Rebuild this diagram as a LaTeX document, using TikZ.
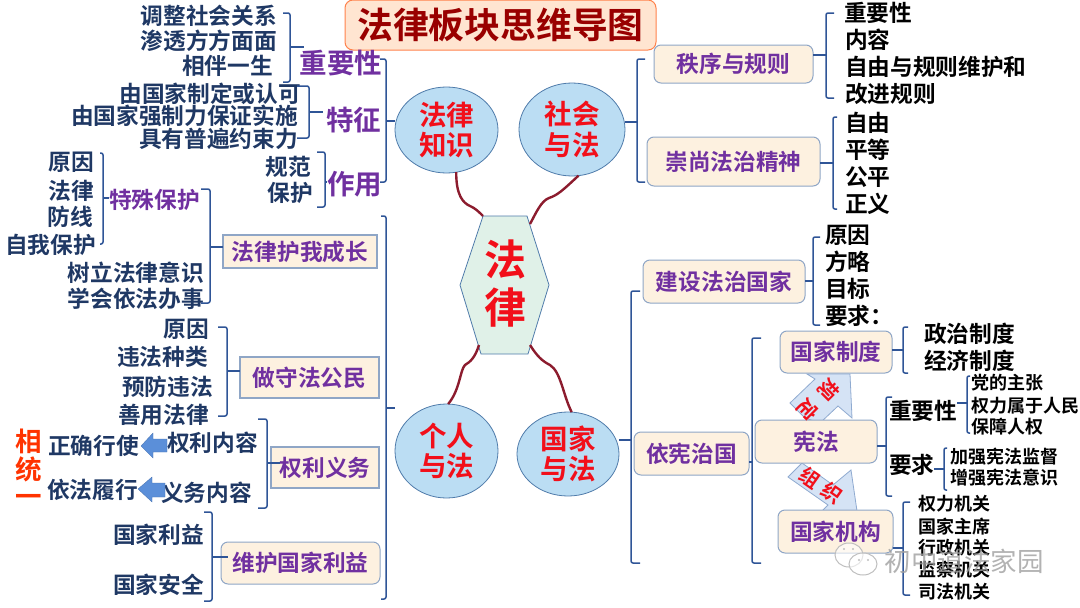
\documentclass[tikz,border=0pt]{standalone}
\usepackage{fontspec}
\setmainfont{Noto Sans CJK SC}[BoldFont={Noto Sans CJK SC Bold}]
\usepackage{tikz}
\usetikzlibrary{shapes.geometric}
\usetikzlibrary{positioning}

\definecolor{navytext}{HTML}{1F3864}
\definecolor{purpletext}{HTML}{7030A0}
\definecolor{redtext}{HTML}{F20F1A}
\definecolor{branchline}{HTML}{2F5597}
\definecolor{rootline}{HTML}{8C1C2E}
\definecolor{rootfill}{HTML}{E0F1E8}
\definecolor{boxfill}{HTML}{FDF1E0}
\definecolor{boxline}{HTML}{8FA6C6}
\definecolor{ballfill}{HTML}{BBDDF3}
\definecolor{ballline}{HTML}{4F7BAA}
\definecolor{arrowfill}{HTML}{D5E3F5}
\definecolor{arrowline}{HTML}{8FAAD0}
\definecolor{bluearrow}{HTML}{5B8FD9}

\newcommand{\px}[1]{\fontsize{#1}{#1}\selectfont\bfseries}

\tikzset{
	every node/.style={inner sep=0pt, outer sep=0pt},
	branch/.style={draw=branchline, line width=1.5pt, rounded corners=2pt},
	rootcurve/.style={draw=rootline, line width=2.4pt},
	ball/.style={ellipse, draw=ballline, line width=0.8pt, fill=ballfill, text=redtext, align=center, font=\px{27.5}},
	softbox/.style={rectangle, rounded corners=7pt, draw=boxline, line width=1pt, fill=boxfill, text=purpletext, font=\px{22.7}},
	sharpbox/.style={rectangle, draw=boxline, line width=1.2pt, fill=boxfill, text=purpletext, font=\px{22.7}},
	navy/.style={text=navytext, font=\px{22.7}},
	blk/.style={text=black, font=\px{22.7}},
	blksmall/.style={text=black, font=\px{18}},
	head/.style={text=purpletext, font=\px{27.5}},
	slant/.style={text=redtext, font=\px{20}},
	blockarrow/.style={draw=arrowline, line width=0.8pt, fill=arrowfill},
	bluefat/.style={fill=bluearrow, draw=bluearrow!80!black, line width=0.3pt},
	bubble/.style={draw=gray!50, line width=1pt, fill=white, fill opacity=0.6}
}

\begin{document}
\begin{tikzpicture}[x=1pt, y=-1pt]
	\useasboundingbox (0,0) rectangle (1080,608);

	% title
	\node[rectangle, rounded corners=8pt, draw=red!40!orange!70, line width=1pt, fill=red!15!orange!18, minimum width=311pt, minimum height=50pt, text=red!60!black, font=\px{35.8}] (title) at (500.5,25) {法律板块思维导图};

	% root
	\coordinate (rootTL) at (483,216);
	\coordinate (rootTR) at (527,216);
	\coordinate (rootR) at (549,285);
	\coordinate (rootBR) at (528,354);
	\coordinate (rootBL) at (481,354);
	\coordinate (rootL) at (460,285);
	\draw[draw=ballline, line width=0.8pt, fill=rootfill] (rootTL) -- (rootTR) -- (rootR) -- (rootBR) -- (rootBL) -- (rootL) -- cycle;
	\node[text=redtext, font=\px{42}, align=center] (root) at (505,284) {法\\[6pt]律};

	% four topics
	\node[ball, minimum width=103pt, minimum height=86pt] (zhishi) at (446.5,130) {法律\\[3pt]知识};
	\node[ball, minimum width=106pt, minimum height=93pt] (shehui) at (572,129.5) {社会\\[3pt]与法};
	\node[ball, minimum width=103pt, minimum height=94pt] (geren) at (446.5,451) {个人\\[3pt]与法};
	\node[ball, minimum width=102pt, minimum height=84pt] (guojia) at (568,454) {国家\\[3pt]与法};

	\draw[rootcurve] (zhishi.-77) .. controls (456,195) and (463,203) .. (470,206) .. controls (475,208) and (479,212) .. (rootTL);
	\draw[rootcurve] (shehui.-82) .. controls (563,190) and (558,195) .. (549,198) .. controls (541,201) and (536,213) .. (530,224);
	\draw[rootcurve] (rootBL) ++(-2,-9) .. controls (475,358) and (470,362) .. (465,365) .. controls (460,370) and (460,390) .. (geren.88);
	\draw[rootcurve] (rootBR) ++(2,-9) .. controls (537,356) and (542,361) .. (550,365) .. controls (561,372) and (563,395) .. (guojia.85);

	% law knowledge
	\node[head, anchor=east] (zhongyao) at (382,63) {重要性};
	\node[head, anchor=east] (tezheng) at (381,120) {特征};
	\node[head, anchor=east] (zuoyong) at (382,184) {作用};
	\node[navy, anchor=east] (tiaozheng) at (277,16) {调整社会关系};
	\node[navy, anchor=east] (shentou) at (277,41) {渗透方方面面};
	\node[navy, anchor=east] (xiangban) at (273,66) {相伴一生};
	\node[navy, anchor=east] (zhiding) at (301,94) {由国家制定或认可};
	\node[navy, anchor=east] (qiangzhi) at (298,116) {由国家强制力保证实施};
	\node[navy, anchor=east] (yueshu) at (298,139) {具有普遍约束力};
	\node[navy, anchor=east] (guifan) at (311,167) {规范};
	\node[navy, anchor=east] (baohu) at (313,193) {保护};

	\draw[branch] (283,13) -- (290,13) -- (290,82) -- (283,82);
	\draw[branch] (290,47) -- (304,47);
	\draw[branch] (297,86) -- (309,86) -- (309,138) -- (297,138);
	\coordinate (jTZ) at (309,112);
	\draw[branch] (jTZ) -- (323,112);
	\draw[branch] (317,152) -- (325,152) -- (325,207) -- (317,207);
	\coordinate (jZY) at (325,182);
	\draw[branch] (jZY) -- (jZY -| zuoyong.west);
	\draw[branch] (380,59) -- (386,59) -- (386,182) -- (380,182);
	\coordinate (jZS) at (386,121);
	\draw[branch] (jZS) -- (jZS -| zhishi.west);

	% person and law
	\node[sharpbox, minimum width=154pt, minimum height=33pt] (huwo) at (300,251.5) {法律护我成长};
	\node[sharpbox, minimum width=139pt, minimum height=41pt] (shoufa) at (309.5,377.5) {做守法公民};
	\node[sharpbox, minimum width=108pt, minimum height=41pt] (quanyi) at (325,467.5) {权利义务};
	\node[softbox, minimum width=159pt, minimum height=42pt] (weihu) at (300.5,563) {维护国家利益};

	\node[text=purpletext, font=\px{22.7}, anchor=east] (teshu) at (200,200) {特殊保护};
	\node[navy, anchor=east] (yuanyin) at (94,162) {原因};
	\node[navy, anchor=east] (falv) at (94,191) {法律};
	\node[navy, anchor=east] (fangxian) at (93,217) {防线};
	\node[navy, anchor=east] (ziwo) at (96,245) {自我保护};
	\node[navy, anchor=east] (shuli) at (204,273) {树立法律意识};
	\node[navy, anchor=east] (xuehui) at (204,299) {学会依法办事};
	\node[navy, anchor=east] (yuanyinb) at (209,329) {原因};
	\node[navy, anchor=east] (weifa) at (208,357) {违法种类};
	\node[navy, anchor=east] (yufang) at (213,387) {预防违法};
	\node[navy, anchor=east] (shanyong) at (209,415) {善用法律};
	\node[navy, anchor=east] (quanneirong) at (258,443) {权利内容};
	\node[navy, anchor=east] (yineirong) at (252,493) {义务内容};
	\node[navy, anchor=east] (zhengque) at (139,446) {正确行使};
	\node[navy, anchor=east] (yifa) at (138,490) {依法履行};
	\node[navy, anchor=east] (liyi) at (204,535) {国家利益};
	\node[navy, anchor=east] (anquan) at (204,585) {国家安全};
	\node[text=orange!40!red, font=\px{26.5}, align=center] (tongyi) at (28.5,468) {相\\[1pt]统\\[1pt]一};

	\draw[bluefat] (167,439) -- (153,439) -- (153,433) -- (141,446) -- (153,458) -- (153,452) -- (167,452) -- cycle;
	\draw[bluefat] (165,483) -- (152,483) -- (152,477) -- (138,489) -- (152,502) -- (152,497) -- (165,497) -- cycle;

	\draw[branch] (100,153) -- (103,153) -- (103,244) -- (100,244);
	\coordinate (jTS) at (103,198);
	\draw[branch] (jTS) -- (jTS -| teshu.west);
	\draw[branch] (201,189) -- (210,189) -- (210,303) -- (201,303);
	\coordinate (jHW) at (210,247);
	\draw[branch] (jHW) -- (jHW -| huwo.west);
	\draw[branch] (218,327) -- (227,327) -- (227,416) -- (218,416);
	\coordinate (jSF) at (227,371);
	\draw[branch] (jSF) -- (jSF -| shoufa.west);
	\draw[branch] (258,419) -- (267,419) -- (267,508) -- (258,508);
	\draw[branch] (267,463) -- (280,463);
	\draw[branch] (204,512) -- (212,512) -- (212,601) -- (204,601);
	\draw[branch] (212,557) -- (228,557);
	\draw[branch] (381,216) -- (386,216) -- (386,599) -- (381,599);
	\coordinate (jGR) at (386,408);
	\draw[branch] (jGR) -- (jGR -| geren.west);

	% society and law
	\node[softbox, minimum width=159pt, minimum height=38pt] (zhixu) at (733.5,64) {秩序与规则};
	\node[softbox, minimum width=173pt, minimum height=49pt] (chongshang) at (733.5,161.5) {崇尚法治精神};
	\node[blk, anchor=west] (zhongyaob) at (844,13) {重要性};
	\node[blk, anchor=west] (neirong) at (845,40) {内容};
	\node[blk, anchor=west] (ziyougui) at (845,67) {自由与规则维护和};
	\node[blk, anchor=west] (gaijin) at (845,94) {改进规则};
	\node[blk, anchor=west] (ziyou) at (845,123) {自由};
	\node[blk, anchor=west] (pingdeng) at (845,150) {平等};
	\node[blk, anchor=west] (gongping) at (845,177) {公平};
	\node[blk, anchor=west] (zhengyi) at (845,204) {正义};

	\draw[branch] (645,59) -- (637,59) -- (637,182) -- (645,182);
	\coordinate (jSH) at (637,122);
	\draw[branch] (jSH) -- (jSH -| shehui.east);
	\draw[branch] (834,13) -- (826,13) -- (826,98) -- (834,98);
	\coordinate (jZX) at (826,55);
	\draw[branch] (jZX) -- (jZX -| zhixu.east);
	\draw[branch] (837,117) -- (833,117) -- (833,209) -- (837,209);
	\coordinate (jCS) at (833,163);
	\draw[branch] (jCS) -- (jCS -| chongshang.east);

	% state and law
	\node[softbox, minimum width=162pt, minimum height=43pt] (jianshe) at (724,281.5) {建设法治国家};
	\node[softbox, minimum width=115pt, minimum height=43pt] (yixian) at (691.5,453.5) {依宪治国};
	\node[blk, anchor=west] (yuanyinc) at (825,235) {原因};
	\node[blk, anchor=west] (fanglve) at (825,262) {方略};
	\node[blk, anchor=west] (mubiao) at (825,289) {目标};
	\node[blk, anchor=west] (yaoqiu) at (825,316) {要求：};

	% block arrows sit behind the boxes
	\draw[blockarrow] (790,403) -- (815,379) -- (807,374) -- (850,374) -- (852,418) -- (838,406) -- (820,423) -- (805,418) -- cycle;
	\draw[blockarrow] (788,477) -- (802,463) -- (833,485) -- (851,470) -- (857,511) -- (822,511) -- (828,505) -- cycle;
	\node[softbox, minimum width=112pt, minimum height=42pt] (zhidu) at (836,352) {国家制度};
	\node[softbox, minimum width=122pt, minimum height=43pt] (xianfa) at (816,441.5) {宪法};
	\node[softbox, minimum width=115pt, minimum height=43pt] (jigou) at (835.5,531.5) {国家机构};
	\node[slant, rotate=-135] (guiding) at (818.5,400) {规\hspace{9pt}定};
	\node[slant, rotate=-35] (zuzhi) at (821,485.5) {组\hspace{6pt}织};

	\node[blk, anchor=west] (zhengzhi) at (924,334) {政治制度};
	\node[blk, anchor=west] (jingji) at (924,361) {经济制度};
	\node[blk, anchor=west] (zhongyaoc) at (889,411) {重要性};
	\node[blk, anchor=west] (yaoqiub) at (889,465) {要求};
	\node[blksmall, anchor=west] (dangde) at (971,383) {党的主张};
	\node[blksmall, anchor=west] (quanli) at (971,406) {权力属于人民};
	\node[blksmall, anchor=west] (baozhang) at (971,427) {保障人权};
	\node[blksmall, anchor=west] (jiaqiang) at (950,457) {加强宪法监督};
	\node[blksmall, anchor=west] (zengqiang) at (950,478) {增强宪法意识};
	\node[blksmall, anchor=west] (quanlijg) at (918,504) {权力机关};
	\node[blksmall, anchor=west] (zhuxi) at (918,527) {国家主席};
	\node[blksmall, anchor=west] (xingzheng) at (918,548) {行政机关};
	\node[blksmall, anchor=west] (jiancha) at (918,570) {监察机关};
	\node[blksmall, anchor=west] (sifa) at (918,592) {司法机关};

	\draw[branch] (640,291) -- (631,291) -- (631,563) -- (640,563);
	\coordinate (jGJ) at (631,440);
	\draw[branch] (jGJ) -- (jGJ -| guojia.east);
	\draw[branch] (820,237) -- (813,237) -- (813,325) -- (820,325);
	\coordinate (jJS) at (813,281);
	\draw[branch] (jJS) -- (jJS -| jianshe.east);
	\draw[branch] (761,338) -- (752,338) -- (752,563) -- (761,563);
	\coordinate (jYX) at (752,462);
	\draw[branch] (jYX) -- (jYX -| yixian.east);
	\draw[branch] (908,327) -- (903,327) -- (903,373) -- (908,373);
	\coordinate (jZD) at (903,350);
	\draw[branch] (jZD) -- (jZD -| zhidu.east);
	\draw[branch] (892,397) -- (886,397) -- (886,496) -- (892,496);
	\coordinate (jXF) at (886,446);
	\draw[branch] (jXF) -- (jXF -| xianfa.east);
	\draw[branch] (970,376) -- (967,376) -- (967,433) -- (970,433);
	\coordinate (jZYC) at (967,403);
	\draw[branch] (jZYC) -- (jZYC -| zhongyaoc.east);
	\draw[branch] (947,448) -- (944,448) -- (944,490) -- (947,490);
	\coordinate (jYQ) at (944,469);
	\draw[branch] (jYQ) -- (jYQ -| yaoqiub.east);
	\draw[branch] (910,502) -- (903,502) -- (903,595) -- (910,595);
	\coordinate (jJG) at (903,548);
	\draw[branch] (jJG) -- (jJG -| jigou.east);

	% mark over the lower right corner
	\draw[bubble] (849,555) ellipse (14pt and 12pt);
	\draw[bubble] (863,564) ellipse (14pt and 11pt);
	\fill[gray!50] (844,549) circle (1.2pt) (853,549) circle (1.2pt) (859,560) circle (1.2pt) (868,560) circle (1.2pt);
	\node[text=gray!75, opacity=0.8, font=\fontsize{26.5}{26.5}\selectfont] (mark) at (964,561) {初中道法家园};
\end{tikzpicture}
\end{document}
